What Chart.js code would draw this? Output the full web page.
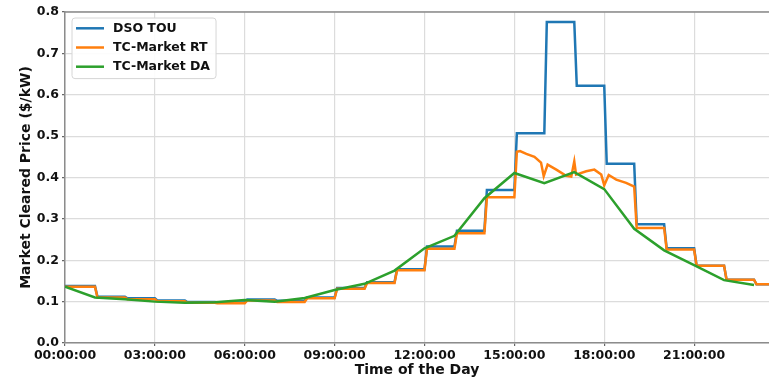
<!DOCTYPE html>
<html>
<head>
<meta charset="utf-8">
<script src="https://cdn.jsdelivr.net/npm/chart.js@4.4.1/dist/chart.umd.min.js"></script>
<style>
  html, body { margin: 0; padding: 0; background: #fff; }
  #wrap { width: 769px; height: 381px; }
</style>
</head>
<body>
<div id="wrap"><canvas id="priceChart" width="769" height="381"></canvas></div>
<script>
// Hourly prices ($/kW), index = hour of day (0..23)
const dsoTouHourly = [0.138, 0.112, 0.108, 0.103, 0.099, 0.098, 0.105, 0.102, 0.110, 0.133, 0.147, 0.178,
  0.233, 0.271, 0.370, 0.507, 0.776, 0.622, 0.433, 0.287, 0.229, 0.187, 0.153, 0.142]
// real-time market: hourly steps, peak hours (15..18) given in detail below
const rtHourly = [0.136, 0.110, 0.106, 0.101, 0.097, 0.096, 0.103, 0.099, 0.108, 0.131, 0.145, 0.176,
  0.228, 0.265, 0.352, null, null, null, null, 0.278, 0.226, 0.187, 0.153, 0.142]
const rtPeakTimes = [15.083, 15.19, 15.4, 15.67, 15.89, 15.98, 16.11, 16.4, 16.73, 16.9, 17.0, 17.06,
  17.4, 17.67, 17.9, 18.0, 18.15, 18.4, 18.73, 19.0]
const rtPeakValues = [0.462, 0.464, 0.457, 0.450, 0.436, 0.403, 0.431, 0.419, 0.404, 0.402, 0.439, 0.407,
  0.415, 0.419, 0.407, 0.381, 0.406, 0.395, 0.387, 0.378]
// day-ahead market, one value per hour
const daHourly = [0.136, 0.110, 0.106, 0.100, 0.097, 0.0985, 0.104, 0.100, 0.109, 0.128, 0.143, 0.175,
  0.229, 0.259, 0.350, 0.411, 0.386, 0.413, 0.372, 0.276, 0.224, 0.188, 0.152, 0.140]

const seriesLabels = ["DSO TOU", "TC-Market RT", "TC-Market DA"]
const seriesColors = ["#1f77b4", "#ff7f0e", "#2ca02c"]
const xTickStep = 3      // hours between x tick labels
const xMaxHour = 23.5
const yTickStep = 0.1

// data is sampled every 5 minutes, so a new hourly price shows up at hh:05
const SAMPLE = 5 / 60

function stepPoints(vals) {
  const pts = []
  vals.forEach((v, h) => {
    if (v === null) return
    pts.push({ x: h === 0 ? 0 : h + SAMPLE, y: v }, { x: h + 1, y: v })
  })
  return pts
}

const dsoData = stepPoints(dsoTouHourly)
const rtData = stepPoints(rtHourly)
  .concat(rtPeakTimes.map((t, i) => ({ x: t, y: rtPeakValues[i] })))
  .sort((a, b) => a.x - b.x)
const daData = daHourly.map((v, h) => ({ x: h, y: v }))

const FONT = "'DejaVu Sans', 'Liberation Sans', sans-serif"

// top frame line (matplotlib spine)
const topSpine = {
  id: "topSpine",
  afterDatasetsDraw(chart) {
    const { ctx, chartArea } = chart
    ctx.save()
    ctx.strokeStyle = "#8c8c8c"
    ctx.lineWidth = 1.5
    ctx.beginPath()
    ctx.moveTo(chartArea.left, chartArea.top)
    ctx.lineTo(chartArea.right, chartArea.top)
    ctx.stroke()
    ctx.restore()
  },
}

// legend drawn inside the plot area, upper left, with a white box
const legendBox = {
  id: "legendBox",
  afterDraw(chart) {
    const { ctx, chartArea } = chart
    const ds = chart.data.datasets
    ctx.save()
    ctx.font = "bold 12.5px " + FONT
    let maxW = 0
    ds.forEach((d) => { maxW = Math.max(maxW, ctx.measureText(d.label).width) })
    const x0 = chartArea.left + 7
    const y0 = chartArea.top + 6
    const rowH = 19.2
    const w = 41 + maxW + 6
    const h = rowH * ds.length + 3
    ctx.fillStyle = "rgba(255,255,255,0.9)"
    ctx.strokeStyle = "#d6d6d6"
    ctx.lineWidth = 1
    ctx.beginPath()
    ctx.roundRect(x0, y0, w, h, 3)
    ctx.fill()
    ctx.stroke()
    ds.forEach((d, i) => {
      const y = y0 + 10.3 + i * rowH
      ctx.strokeStyle = d.borderColor
      ctx.lineWidth = 2.5
      ctx.beginPath()
      ctx.moveTo(x0 + 4, y)
      ctx.lineTo(x0 + 32, y)
      ctx.stroke()
      ctx.fillStyle = "#111"
      ctx.textBaseline = "middle"
      ctx.fillText(d.label, x0 + 41, y + 0.5)
    })
    ctx.restore()
  },
}

const lineStyle = { borderWidth: 2.5, pointRadius: 0, tension: 0, fill: false }

new Chart(document.getElementById("priceChart"), {
  type: "line",
  data: {
    datasets: [
      { label: seriesLabels[0], data: dsoData, borderColor: seriesColors[0], order: 3, ...lineStyle },
      { label: seriesLabels[1], data: rtData, borderColor: seriesColors[1], order: 2, ...lineStyle },
      { label: seriesLabels[2], data: daData, borderColor: seriesColors[2], order: 1, ...lineStyle },
    ],
  },
  options: {
    responsive: false,
    animation: false,
    layout: { padding: { top: 12, right: 0, bottom: 0, left: 0 } },
    plugins: { legend: { display: false }, tooltip: { enabled: false } },
    scales: {
      x: {
        type: "linear",
        min: 0,
        max: xMaxHour,
        ticks: {
          stepSize: xTickStep,
          includeBounds: false,
          autoSkip: false,
          maxRotation: 0,
          padding: 2,
          color: "#111",
          font: { family: FONT, size: 12.5, weight: "bold" },
          callback: (v) => String(v).padStart(2, "0") + ":00:00",
        },
        grid: { color: "#dcdcdc", lineWidth: 1.2, tickColor: "#666", tickLength: 3 },
        border: { color: "#8c8c8c", width: 1.5 },
        title: {
          display: true,
          text: "Time of the Day",
          color: "#111",
          font: { family: FONT, size: 14, weight: "bold" },
          padding: { top: 0, bottom: 2 },
        },
        afterFit: (s) => { s.height = 38 },
      },
      y: {
        min: 0,
        max: 0.8,
        ticks: {
          stepSize: yTickStep,
          padding: 3,
          color: "#111",
          font: { family: FONT, size: 12.5, weight: "bold" },
          callback: (v) => v.toFixed(1),
        },
        grid: { color: "#dcdcdc", lineWidth: 1.2, tickColor: "#666", tickLength: 3 },
        border: { color: "#8c8c8c", width: 1.5 },
        title: {
          display: true,
          text: "Market Cleared Price ($/kW)",
          color: "#111",
          font: { family: FONT, size: 14, weight: "bold" },
          padding: { top: 17.5, bottom: 0 },
        },
        afterFit: (s) => { s.width = 65 },
      },
    },
  },
  plugins: [topSpine, legendBox],
})
</script>
</body>
</html>
